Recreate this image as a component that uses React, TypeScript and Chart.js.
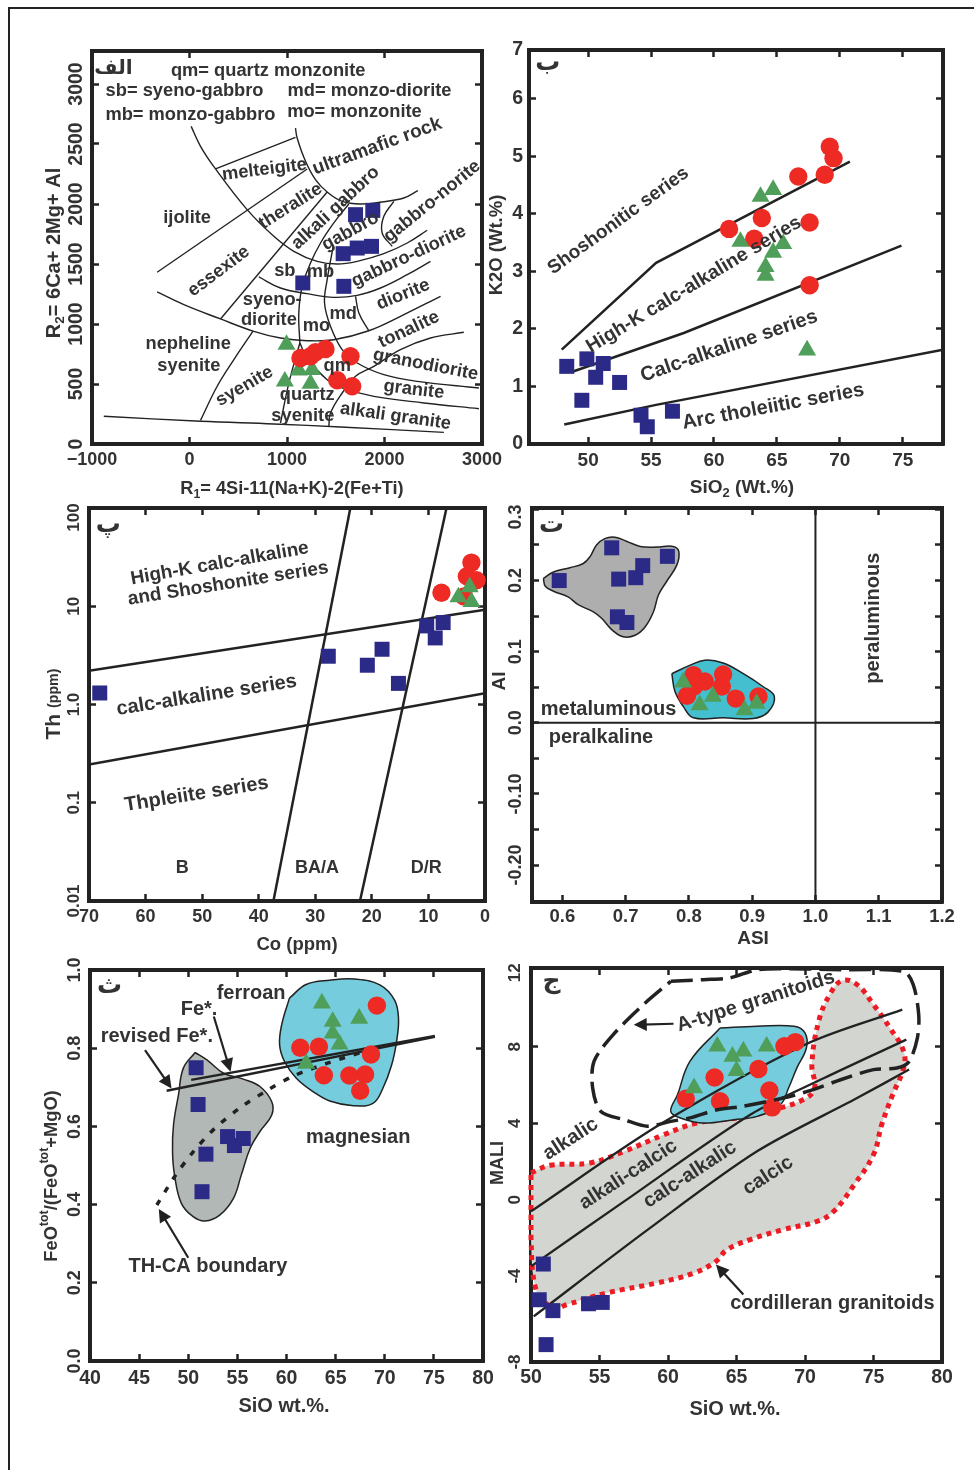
import React, { useEffect, useRef } from "react";
import { Chart, registerables } from "chart.js";

Chart.register(...registerables);

type Pair = [number, number];
// text, x, y, angle in degrees, optional font size
type Note = [string, number, number, number?, number?];
type Run = { t: string; sub?: boolean; sup?: boolean; small?: boolean };

const INK = "#222222";
const TEXT = "#333333";
const BLUE = "#2B2A86";
const RED = "#EE2A24";
const GREEN = "#4F9E5A";
const CYAN = "#74CCDD";

// ---------- panel A (R1-R2) ----------
const xTicksA = [-1000, 0, 1000, 2000, 3000];
const xLabelsA = ["−1000", "0", "1000", "2000", "3000"];
const yTicksA = [0, 500, 1000, 1500, 2000, 2500, 3000];
const yLabelsA = ["0", "500", "1000", "1500", "2000", "2500", "3000"];
const squaresA: Pair[] = [[1703, 1911], [1880, 1947], [1576, 1586], [1720, 1633], [1867, 1647], [1162, 1342], [1583, 1314]];
const circlesA: Pair[] = [[1138, 717], [1241, 731], [1292, 764], [1395, 792], [1651, 731], [1515, 531], [1668, 481]];
const trianglesA: Pair[] = [[995, 828], [1121, 614], [1258, 619], [978, 522], [1241, 503]];
const curvesA: Pair[][] = [
  [[17, 2647], [113, 2481], [267, 2292], [591, 1953], [865, 1731], [1070, 1606], [1309, 1522], [1515, 1500], [1720, 1522], [1993, 1586], [2233, 1675], [2438, 1781]],
  [[1087, 2633], [1104, 2550], [1190, 2356], [1292, 2203], [1412, 2100], [1566, 2022], [1754, 2000], [1973, 2017], [2198, 2050], [2342, 2111]],
  [[711, 1392], [933, 1300], [1207, 1253], [1480, 1222], [1720, 1239], [1959, 1300], [2233, 1411], [2472, 1522]],
  [[-332, 1267], [-58, 1161], [318, 1042], [660, 939], [933, 883], [1207, 861], [1480, 869], [1839, 944], [2164, 1064], [2575, 1231]],
  [[113, 197], [284, 481], [455, 703], [650, 939]],
  [[-879, 231], [113, 189], [865, 167], [1549, 142], [2609, 97]],
  [[1634, 2000], [1480, 1842], [1344, 1675], [1241, 1508], [1156, 1314], [1121, 1092], [1132, 842]],
  [[933, 175], [1019, 508], [1132, 842]],
  [[1132, 842], [1207, 717], [1412, 536], [1566, 467], [1891, 397], [2404, 342], [2968, 294]],
  [[1474, 1647], [1412, 1370], [1385, 1175], [1446, 981], [1566, 786], [1720, 675], [1993, 578], [2335, 522], [2968, 467]],
  [[2814, 931], [2472, 883], [2164, 786], [1891, 647], [1703, 564], [1566, 425], [1446, 258], [1429, 147]],
  [[1703, 1231], [1737, 1092], [1839, 944]],
  [[2096, 2022], [1993, 1897], [1976, 1758], [2079, 1647]],
];
const straightsA: Pair[][] = [
  [[267, 2292], [1087, 2556]],
  [[-332, 1431], [1207, 2292]],
  [[318, 1042], [1412, 2100]],
];
const notesA: Note[] = [
  ["qm= quartz monzonite", 807, 3106],
  ["sb= syeno-gabbro", -51, 2939],
  ["md= monzo-diorite", 1846, 2939],
  ["mb= monzo-gabbro", 10, 2744],
  ["mo= monzonite", 1692, 2764],
  ["melteigite", 769, 2286, -7],
  ["ultramafic rock", 1925, 2481, -20, 19],
  ["theralite", 1036, 1981, -32],
  ["alkali gabbro", 1498, 1967, -43],
  ["gabbro-norite", 2489, 2022, -39],
  ["gabbro", 1651, 1772, -29],
  ["gabbro-diorite", 2250, 1564, -25],
  ["ijolite", -24, 1883],
  ["essexite", 301, 1439, -37],
  ["sb", 978, 1439],
  ["mb", 1344, 1431],
  ["syeno-", 848, 1203],
  ["diorite", 814, 1031],
  ["mo", 1303, 981],
  ["md", 1576, 1086],
  ["diorite", 2192, 1245, -22],
  ["tonalite", 2250, 953, -25],
  ["nepheline", -14, 833],
  ["syenite", -7, 653],
  ["syenite", 564, 481, -30],
  ["qm", 1515, 653],
  ["granodiorite", 2421, 661, 11],
  ["granite", 2301, 453, 7],
  ["quartz", 1207, 411],
  ["syenite", 1162, 236],
  ["alkali granite", 2113, 231, 8],
];

// ---------- panel B (SiO2-K2O) ----------
const xTicksB = [50, 55, 60, 65, 70, 75];
const xLabelsB = ["50", "55", "60", "65", "70", "75"];
const yTicksB = [0, 1, 2, 3, 4, 5, 6, 6.85];
const yLabelsB = ["0", "1", "2", "3", "4", "5", "6", "7"];
const squaresB: Pair[] = [[48.3, 1.35], [49.9, 1.48], [51.2, 1.4], [50.6, 1.16], [52.5, 1.07], [49.5, 0.76], [54.2, 0.5], [54.7, 0.3], [56.7, 0.57]];
const circlesB: Pair[] = [[69.2, 5.17], [69.5, 4.97], [66.7, 4.65], [68.8, 4.68], [61.2, 3.74], [63.8, 3.93], [67.6, 3.85], [63.2, 3.57], [67.6, 2.76]];
const trianglesB: Pair[] = [[63.7, 4.3], [64.7, 4.42], [62.1, 3.52], [65.5, 3.48], [64.7, 3.33], [64.1, 3.08], [64.1, 2.93], [67.4, 1.63]];
const straightsB: Pair[][] = [
  [[47.9, 1.64], [55.4, 3.15], [70.8, 4.91]],
  [[48.8, 1.26], [57.6, 1.93], [74.9, 3.45]],
  [[48.1, 0.34], [55.4, 0.68], [78.2, 1.64]],
];
const notesB: Note[] = [
  ["Shoshonitic series", 52.4, 3.88, -36, 19],
  ["High-K calc-alkaline series", 58.4, 2.77, -31, 19.5],
  ["Calc-alkaline series", 61.2, 1.7, -19, 20],
  ["Arc tholeiitic series", 64.7, 0.65, -10.5, 20],
];

// ---------- panel C (Co-Th) ----------
const xTicksC = [70, 60, 50, 40, 30, 20, 10, 0];
const xLabelsC = ["70", "60", "50", "40", "30", "20", "10", "0"];
const yTicksC = [0.01, 0.1, 1, 10, 100];
const yLabelsC = ["0.01", "0.1", "1.0", "10", "100\u00A0\u00A0\u00A0\u00A0"];
const squaresC: Pair[] = [[68.1, 1.31], [27.7, 3.1], [20.8, 2.51], [18.2, 3.65], [15.3, 1.64], [10.3, 6.31], [7.4, 6.82], [8.8, 4.76]];
const circlesC: Pair[] = [[2.4, 27.8], [3.2, 20.2], [1.5, 18.4], [7.7, 13.7], [3.7, 12.6]];
const trianglesC: Pair[] = [[2.7, 15.7], [4.7, 12.4], [2.4, 11.1]];
const straightsC: Pair[][] = [
  [[70, 2.2], [0, 9.2]],
  [[70, 0.245], [0, 1.3]],
  [[37.4, 0.01], [23.8, 100]],
  [[22.1, 0.01], [6.8, 100]],
];
const notesC: Note[] = [
  ["High-K calc-alkaline", 46.9, 27.2, -10, 19],
  ["and Shoshonite series", 45.4, 17, -9, 19],
  ["calc-alkaline series", 49.2, 1.24, -9],
  ["Thpleiite series", 51, 0.122, -9],
  ["B", 53.5, 0.0215, 0, 18],
  ["BA/A", 29.7, 0.0215, 0, 18],
  ["D/R", 10.4, 0.0215, 0, 18],
];

// ---------- panel D (ASI-AI) ----------
const xTicksD = [0.6, 0.7, 0.8, 0.9, 1.0, 1.1, 1.2];
const xLabelsD = ["0.6", "0.7", "0.8", "0.9", "1.0", "1.1", "1.2"];
const yTicksD = [-0.2, -0.15, -0.1, -0.05, 0, 0.05, 0.1, 0.15, 0.2, 0.25, 0.3];
const yLabelsD = ["-0.20", "", "-0.10", "", "0.0", "", "0.1", "", "0.2", "", "0.3\u00A0\u00A0\u00A0"];
const squaresD: Pair[] = [[0.678, 0.246], [0.766, 0.234], [0.727, 0.221], [0.689, 0.202], [0.716, 0.204], [0.595, 0.2], [0.687, 0.149], [0.702, 0.141]];
const circlesD: Pair[] = [[0.807, 0.067], [0.825, 0.058], [0.854, 0.068], [0.852, 0.051], [0.808, 0.051], [0.797, 0.038], [0.874, 0.034], [0.91, 0.037]];
const trianglesD: Pair[] = [[0.791, 0.057], [0.838, 0.037], [0.817, 0.025], [0.888, 0.018], [0.907, 0.027]];
const grayBlobD: Pair[] = [[0.57, 0.203], [0.586, 0.212], [0.612, 0.218], [0.633, 0.224], [0.644, 0.234], [0.654, 0.25], [0.667, 0.259], [0.683, 0.261], [0.702, 0.255], [0.723, 0.248], [0.749, 0.247], [0.775, 0.248], [0.784, 0.241], [0.781, 0.222], [0.765, 0.199], [0.752, 0.18], [0.744, 0.156], [0.731, 0.135], [0.715, 0.123], [0.696, 0.121], [0.678, 0.131], [0.662, 0.147], [0.649, 0.156], [0.625, 0.166], [0.609, 0.177], [0.586, 0.185], [0.573, 0.192]];
const cyanBlobD: Pair[] = [[0.773, 0.069], [0.802, 0.081], [0.825, 0.088], [0.854, 0.084], [0.886, 0.069], [0.917, 0.051], [0.935, 0.037], [0.925, 0.015], [0.902, 0.006], [0.854, 0.007], [0.807, 0.007], [0.791, 0.023], [0.778, 0.044]];
const straightsD: Pair[][] = [
  [[0.552, 0], [1.2, 0]],
  [[1, -0.252], [1, 0.302]],
];
const notesD: Note[] = [
  ["metaluminous", 0.673, 0.018],
  ["peralkaline", 0.661, -0.02],
  ["peraluminous", 1.092, 0.147, -90],
];

// ---------- panel E (SiO-Fe*) ----------
const xTicksE = [40, 45, 50, 55, 60, 65, 70, 75, 80];
const xLabelsE = ["40", "45", "50", "55", "60", "65", "70", "75", "80"];
const yTicksE = [0, 0.2, 0.4, 0.6, 0.8, 1];
const yLabelsE = ["0.0", "0.2", "0.4", "0.6", "0.8", "1.0"];
const squaresE: Pair[] = [[50.8, 0.75], [51, 0.656], [54, 0.574], [54.7, 0.551], [55.6, 0.569], [51.8, 0.529], [51.4, 0.433]];
const circlesE: Pair[] = [[69.2, 0.909], [61.4, 0.801], [63.3, 0.804], [68.6, 0.784], [63.8, 0.731], [66.4, 0.73], [68, 0.733], [67.5, 0.691]];
const trianglesE: Pair[] = [[63.6, 0.915], [64.7, 0.868], [67.4, 0.876], [64.7, 0.838], [65.4, 0.81], [62, 0.761]];
const grayBlobE: Pair[] = [[50.7, 0.789], [51.9, 0.77], [53.6, 0.736], [55.6, 0.721], [57.3, 0.702], [58.5, 0.663], [58.5, 0.629], [57.3, 0.587], [56.3, 0.544], [55.4, 0.476], [54.6, 0.416], [53.2, 0.373], [51.7, 0.358], [50.5, 0.369], [49.3, 0.403], [48.6, 0.476], [48.4, 0.535], [48.5, 0.604], [49, 0.68], [49.5, 0.749]];
const cyanBlobE: Pair[] = [[60.3, 0.928], [62, 0.963], [64.4, 0.974], [66.9, 0.977], [69.5, 0.962], [71, 0.923], [71.4, 0.876], [71.2, 0.817], [70.7, 0.757], [69.8, 0.697], [68.8, 0.659], [66.8, 0.653], [64.4, 0.665], [62.7, 0.689], [61, 0.723], [59.8, 0.766], [59.3, 0.808], [59.5, 0.859]];
const straightsE: Pair[][] = [
  [[50.3, 0.719], [75.1, 0.831]],
  [[47.8, 0.691], [75.1, 0.829]],
];
const thCaBoundary: Pair[] = [[46.8, 0.399], [48.6, 0.471], [50.5, 0.535], [52.7, 0.595], [55.3, 0.648], [58.1, 0.693], [60.8, 0.73], [64.1, 0.761], [67.8, 0.791]];
const notesE: Note[] = [
  ["ferroan", 56.4, 0.94],
  ["Fe*.", 51.1, 0.9],
  ["revised Fe*.", 46.8, 0.829],
  ["magnesian", 67.3, 0.571],
  ["TH-CA boundary", 52, 0.241],
];
const arrowsE: Pair[][] = [
  [[45.6, 0.795], [48.3, 0.697]],
  [[52.6, 0.881], [54.3, 0.74]],
  [[50, 0.264], [47, 0.389]],
];

// ---------- panel F (SiO-MALI) ----------
const xTicksF = [50, 55, 60, 65, 70, 75, 80];
const xLabelsF = ["50", "55", "60", "65", "70", "75", "80"];
const yTicksF = [-8.5, -4, 0, 4, 8, 12.13];
const yLabelsF = ["-8", "-4", "0", "4", "8", "12\u00A0\u00A0"];
const squaresF: Pair[] = [[50.9, -3.37], [50.6, -5.24], [51.6, -5.81], [54.2, -5.45], [55.2, -5.38], [51.1, -7.59]];
const circlesF: Pair[] = [[61.3, 5.29], [63.4, 6.4], [63.8, 5.15], [66.6, 6.84], [68.5, 8.03], [69.3, 8.25], [67.4, 5.72], [67.6, 4.83]];
const trianglesF: Pair[] = [[61.9, 5.85], [63.6, 8.03], [64.7, 7.5], [65.5, 7.77], [67.2, 8.03], [65, 6.75]];
const cordilleran: Pair[] = [[50, 1.4], [51.4, 1.8], [54.3, 1.92], [56.8, 2.53], [59.7, 3.4], [62.1, 4.01], [65, 4.28], [67.2, 4.62], [69.9, 5.24], [70.7, 5.85], [70.5, 7.07], [71, 9.34], [71.8, 10.73], [72.7, 11.47], [73.8, 11.26], [75, 10.21], [76.2, 8.99], [77.2, 7.77], [77.2, 6.89], [76.4, 5.5], [75.6, 3.93], [75, 2.36], [73.6, 0.79], [72.1, -0.61], [70.9, -1.13], [68.4, -1.57], [66, -2.09], [64.3, -2.62], [63.5, -3.23], [61.9, -3.84], [59.2, -4.36], [55.5, -4.89], [52.6, -5.5], [51.7, -5.67], [50.4, -4.8], [50, -2.01]];
const aType: Pair[] = [[60.2, 11.43], [62.6, 11.52], [64.5, 11.61], [66.5, 12.04], [68.9, 12.09], [72.6, 12.04], [77.2, 11.95], [77.9, 11.26], [78.3, 9.69], [78.2, 8.46], [77.6, 7.24], [76.7, 6.89], [75, 6.81], [72.6, 6.28], [70.6, 5.76], [68.4, 5.32], [65.5, 4.89], [63.6, 4.71], [61.6, 4.28], [60.2, 4.1], [58.5, 3.84], [56.8, 4.19], [55.1, 4.62], [54.5, 5.85], [54.6, 7.24], [56, 8.64], [58.2, 10.21], [60.2, 11.43]];
const cyanBlobF: Pair[] = [[63.8, 8.99], [66.5, 9.08], [69.2, 9.08], [70, 8.73], [70.1, 7.94], [69.4, 6.89], [68.8, 5.85], [68.2, 4.97], [66.5, 4.36], [64.8, 4.19], [62.6, 4.01], [60.9, 4.28], [60.2, 4.62], [60.7, 5.5], [61.6, 7.24]];
const curvesF: Pair[][] = [
  [[50, -0.61], [59.4, 3.93], [70.1, 8.15], [77.1, 9.95]],
  [[50, -3.49], [56.8, -0.09], [66, 4.45], [71.4, 6.37], [77.4, 8.38]],
  [[50.2, -6.11], [58.7, -1.48], [66.5, 2.53], [73.8, 5.32], [77.6, 6.81]],
];
const notesF: Note[] = [
  ["alkalic", 52.9, 3.18, -33],
  ["alkali-calcic", 57.1, 1.31, -33],
  ["calc-alkalic", 61.6, 1.31, -33],
  ["calcic", 67.3, 1.26, -33],
  ["A-type granitoids", 66.4, 10.38, -17.5],
  ["cordilleran granitoids", 72, -5.45],
];
const arrowsF: Pair[][] = [
  [[60.4, 9.21], [57.5, 9.16]],
  [[65.5, -4.97], [63.5, -3.4]],
];

const toPoints = (pairs: Pair[]) => pairs.map(([x, y]) => ({ x, y }));

const markers = (pairs: Pair[], style: string, color: string, radius: number, order: number) => ({
  data: toPoints(pairs),
  showLine: false,
  pointStyle: style,
  pointRadius: radius,
  pointBackgroundColor: color,
  pointBorderWidth: 0,
  clip: false,
  order,
});

const line = (pairs: Pair[], width: number, tension: number, order = 20, dash: number[] = [], color = INK) => ({
  data: toPoints(pairs),
  showLine: true,
  pointRadius: 0,
  borderColor: color,
  borderWidth: width,
  borderDash: dash,
  tension,
  fill: false,
  order,
});

const blob = (pairs: Pair[], color: string, order = 30, width = 1.5, outline = INK, dash: number[] = []) => ({
  ...line([...pairs, pairs[0]], width, 0.4, order, dash, outline),
  fill: "shape",
  backgroundColor: color,
  clip: false,
});

const dots = (squares: Pair[], circles: Pair[], triangles: Pair[], redOnTop = false) => [
  markers(squares, "rect", BLUE, 10.6, 3),
  markers(circles, "circle", RED, 9.2, redOnTop ? 1 : 2),
  markers(triangles, "triangle", GREEN, 10.4, redOnTop ? 2 : 1),
];

interface AxisSpec {
  min: number;
  max: number;
  ticks: number[];
  labels: string[];
  size: number;
  pad: number;
  log?: boolean;
  reverse?: boolean;
  flat?: boolean; // y labels stay horizontal
}

interface PanelSpec {
  frame: { left: number; top: number; right: number; bottom: number };
  x: AxisSpec;
  y: AxisSpec;
  datasets: any[];
  notes: Note[];
  noteSize?: number;
  mark: [string, number, number];
  markSize?: number;
  arrows?: Pair[][];
  xTitle: [Run[], number, number, number];
  yTitle: [Run[], number, number, number];
}

const MARGIN = { left: 70, right: 32, top: 18, bottom: 72 };

const drawRuns = (ctx: CanvasRenderingContext2D, runs: Run[], cx: number, cy: number, rotate: number, size: number) => {
  const fontOf = (r: Run) => {
    const s = r.sub || r.sup || r.small ? size * 0.68 : size;
    return `bold ${s}px "Liberation Sans"`;
  };
  let total = 0;
  runs.forEach((r) => {
    ctx.font = fontOf(r);
    total += ctx.measureText(r.t).width;
  });
  ctx.save();
  ctx.translate(cx, cy);
  ctx.rotate(rotate);
  ctx.textAlign = "left";
  ctx.textBaseline = "middle";
  ctx.fillStyle = TEXT;
  let at = -total / 2;
  runs.forEach((r) => {
    ctx.font = fontOf(r);
    const dy = r.sub ? size * 0.3 : r.sup ? -size * 0.38 : 0;
    ctx.fillText(r.t, at, dy);
    at += ctx.measureText(r.t).width;
  });
  ctx.restore();
};

const panelNotes = (spec: PanelSpec) => ({
  id: "panelNotes",
  afterDatasetsDraw(chart: any) {
    const { ctx, scales } = chart;
    const { left, top } = spec.frame;
    const px = (v: number) => scales.x.getPixelForValue(v);
    const py = (v: number) => scales.y.getPixelForValue(v);

    (spec.arrows || []).forEach(([from, to]) => {
      const x1 = px(from[0]);
      const y1 = py(from[1]);
      const x2 = px(to[0]);
      const y2 = py(to[1]);
      const a = Math.atan2(y2 - y1, x2 - x1);
      ctx.save();
      ctx.strokeStyle = INK;
      ctx.fillStyle = INK;
      ctx.lineWidth = 2.2;
      ctx.beginPath();
      ctx.moveTo(x1, y1);
      ctx.lineTo(x2 - 8 * Math.cos(a), y2 - 8 * Math.sin(a));
      ctx.stroke();
      ctx.translate(x2, y2);
      ctx.rotate(a);
      ctx.beginPath();
      ctx.moveTo(0, 0);
      ctx.lineTo(-13, -6.5);
      ctx.lineTo(-13, 6.5);
      ctx.closePath();
      ctx.fill();
      ctx.restore();
    });

    ctx.save();
    ctx.fillStyle = TEXT;
    ctx.textAlign = "center";
    ctx.textBaseline = "middle";
    spec.notes.forEach(([text, x, y, angle, size]) => {
      ctx.save();
      ctx.font = `bold ${size || spec.noteSize || 18}px "Liberation Sans"`;
      ctx.translate(px(x), py(y));
      ctx.rotate(((angle || 0) * Math.PI) / 180);
      ctx.fillText(text, 0, 0);
      ctx.restore();
    });
    const [mark, mx, my] = spec.mark;
    ctx.font = `bold ${spec.markSize || 25}px "DejaVu Sans"`;
    ctx.fillText(mark, px(mx), py(my));
    ctx.restore();

    // axis titles sit at page positions, so take the canvas offset off
    const ox = left - MARGIN.left;
    const oy = top - MARGIN.top;
    const [xRuns, xx, xy, xs] = spec.xTitle;
    drawRuns(ctx, xRuns, xx - ox, xy - oy, 0, xs);
    const [yRuns, yx, yy, ys] = spec.yTitle;
    drawRuns(ctx, yRuns, yx - ox, yy - oy, -Math.PI / 2, ys);
  },
});

const scaleOptions = (axis: AxisSpec, position: string, primary: boolean, thickness: number) => {
  const vertical = position === "left" || position === "right";
  return {
    type: axis.log ? "logarithmic" : "linear",
    axis: vertical ? "y" : "x",
    position,
    min: axis.min,
    max: axis.max,
    reverse: axis.reverse,
    afterBuildTicks: (scale: any) => {
      scale.ticks = axis.ticks.map((value) => ({ value }));
    },
    afterFit: (scale: any) => {
      // fixed margins, and no extra room for labels that overhang the plot
      if (vertical) scale.width = thickness;
      else scale.height = thickness;
      scale.paddingTop = 0;
      scale.paddingBottom = 0;
      scale.paddingLeft = 0;
      scale.paddingRight = 0;
    },
    border: { display: true, color: INK, width: 4 },
    grid: { drawOnChartArea: false, drawTicks: true, tickLength: -7, tickWidth: 2.5, tickColor: INK },
    ticks: {
      display: primary,
      autoSkip: false,
      color: TEXT,
      padding: axis.pad,
      font: { family: '"Liberation Sans"', weight: "bold", size: axis.size },
      callback: (_v: any, i: number) => axis.labels[i],
      minRotation: vertical && !axis.flat ? 90 : 0,
      maxRotation: vertical && !axis.flat ? 90 : 0,
      crossAlign: vertical && !axis.flat ? "center" : "near",
    },
  };
};

const Panel: React.FC<{ spec: PanelSpec }> = ({ spec }) => {
  const canvasRef = useRef<HTMLCanvasElement>(null);
  const { frame } = spec;
  const width = frame.right - frame.left + MARGIN.left + MARGIN.right;
  const height = frame.bottom - frame.top + MARGIN.top + MARGIN.bottom;

  useEffect(() => {
    if (!canvasRef.current) return;
    const chart = new Chart(canvasRef.current, {
      type: "scatter",
      data: { datasets: spec.datasets },
      plugins: [panelNotes(spec)],
      options: {
        responsive: false,
        animation: false,
        events: [],
        layout: { padding: 0 },
        plugins: { legend: { display: false }, tooltip: { enabled: false } },
        scales: {
          x: scaleOptions(spec.x, "bottom", true, MARGIN.bottom),
          x2: scaleOptions(spec.x, "top", false, MARGIN.top),
          y: scaleOptions(spec.y, "left", true, MARGIN.left),
          y2: scaleOptions(spec.y, "right", false, MARGIN.right),
        },
      } as any,
    } as any);
    return () => chart.destroy();
  }, [spec]);

  return (
    <canvas
      ref={canvasRef}
      width={width}
      height={height}
      style={{ position: "absolute", left: frame.left - MARGIN.left, top: frame.top - MARGIN.top, filter: "blur(0.4px)" }}
    />
  );
};

const panels: PanelSpec[] = [
  {
    frame: { left: 92, top: 51, right: 482, bottom: 444 },
    x: { min: -1000, max: 3000, ticks: xTicksA, labels: xLabelsA, size: 18, pad: 12.5 },
    y: { min: 0, max: 3275, ticks: yTicksA, labels: yLabelsA, size: 19.5, pad: 1 },
    datasets: [
      ...dots(squaresA, circlesA, trianglesA, true),
      ...curvesA.map((c) => line(c, 1.4, 0.4)),
      ...straightsA.map((c) => line(c, 1.4, 0)),
    ],
    notes: notesA,
    noteSize: 18.3,
    mark: ["الف", -780, 3130],
    markSize: 20,
    xTitle: [[{ t: "R" }, { t: "1", sub: true }, { t: "= 4Si-11(Na+K)-2(Fe+Ti)" }], 292, 489, 18.2],
    yTitle: [[{ t: "R" }, { t: "2", sub: true }, { t: "= 6Ca+ 2Mg+ Al" }], 54, 253, 20],
  },
  {
    frame: { left: 529, top: 50, right: 943, bottom: 444 },
    x: { min: 45.3, max: 78.2, ticks: xTicksB, labels: xLabelsB, size: 19, pad: 12 },
    y: { min: 0, max: 6.85, ticks: yTicksB, labels: yLabelsB, size: 19.5, pad: 13, flat: true },
    datasets: [...dots(squaresB, circlesB, trianglesB), ...straightsB.map((c) => line(c, 2.5, 0))],
    notes: notesB,
    mark: ["ب", 46.8, 6.62],
    xTitle: [[{ t: "SiO" }, { t: "2", sub: true }, { t: " (Wt.%)" }], 742, 488, 19],
    yTitle: [[{ t: "K2O (Wt.%)" }], 497, 245, 18.5],
  },
  {
    frame: { left: 89, top: 508, right: 485, bottom: 901 },
    x: { min: 0, max: 70, ticks: xTicksC, labels: xLabelsC, size: 18, pad: 12, reverse: true },
    y: { min: 0.01, max: 100, ticks: yTicksC, labels: yLabelsC, size: 17, pad: -1.5, log: true },
    datasets: [...dots(squaresC, circlesC, trianglesC), ...straightsC.map((c) => line(c, 2.5, 0))],
    notes: notesC,
    noteSize: 20,
    mark: ["پ", 66.6, 66],
    xTitle: [[{ t: "Co " }, { t: "(ppm)" }], 297, 945, 18.5],
    yTitle: [[{ t: "Th " }, { t: "(ppm)", small: true }], 54, 704, 21],
  },
  {
    frame: { left: 532, top: 508, right: 942, bottom: 902 },
    x: { min: 0.552, max: 1.2, ticks: xTicksD, labels: xLabelsD, size: 18.5, pad: 11 },
    y: { min: -0.252, max: 0.302, ticks: yTicksD, labels: yLabelsD, size: 18, pad: 2.5 },
    datasets: [
      ...dots(squaresD, circlesD, trianglesD),
      ...straightsD.map((c) => line(c, 2, 0)),
      blob(grayBlobD, "#AEAEAE"),
      blob(cyanBlobD, "#43BFD0"),
    ],
    notes: notesD,
    noteSize: 20,
    mark: ["ت", 0.583, 0.278],
    xTitle: [[{ t: "ASI" }], 753, 939, 19],
    yTitle: [[{ t: "AI" }], 500, 681, 19],
  },
  {
    frame: { left: 90, top: 970, right: 483, bottom: 1361 },
    x: { min: 40, max: 80, ticks: xTicksE, labels: xLabelsE, size: 19.5, pad: 12.5 },
    y: { min: 0, max: 1, ticks: yTicksE, labels: yLabelsE, size: 18, pad: 9.5 },
    datasets: [
      ...dots(squaresE, circlesE, trianglesE),
      line(thCaBoundary, 3.5, 0.3, 25, [6, 9]),
      ...straightsE.map((c) => line(c, 2.5, 0)),
      blob(grayBlobE, "#B2B8B6"),
      blob(cyanBlobE, CYAN),
    ],
    notes: notesE,
    noteSize: 20,
    mark: ["ث", 42, 0.957],
    arrows: arrowsE,
    xTitle: [[{ t: "SiO wt.%." }], 284, 1406, 20],
    yTitle: [
      [{ t: "FeO" }, { t: "tot", sup: true }, { t: "/(FeO" }, { t: "tot", sup: true }, { t: "+MgO)" }],
      52,
      1176,
      18.3,
    ],
  },
  {
    frame: { left: 531, top: 968, right: 942, bottom: 1362 },
    x: { min: 50, max: 80, ticks: xTicksF, labels: xLabelsF, size: 19.5, pad: 11 },
    y: { min: -8.5, max: 12.13, ticks: yTicksF, labels: yLabelsF, size: 17, pad: 8.8 },
    datasets: [
      line(aType, 3.5, 0.3, 0, [22, 8]),
      ...dots(squaresF, circlesF, trianglesF),
      ...curvesF.map((c) => line(c, 2.3, 0.3)),
      blob(cyanBlobF, CYAN, 30),
      blob(cordilleran, "#D3D5D0", 40, 5, "#ED1C24", [5, 5]),
    ],
    notes: notesF,
    noteSize: 20,
    mark: ["ج", 51.5, 11.4],
    arrows: arrowsF,
    xTitle: [[{ t: "SiO wt.%." }], 735, 1409, 20],
    yTitle: [[{ t: "MALI" }], 498, 1163, 18],
  },
];

export default function App() {
  return (
    <div style={{ position: "absolute", left: 0, top: 0, width: 974, height: 1470, overflow: "hidden", background: "#fff" }}>
      <div style={{ position: "absolute", left: 8, top: 7, width: 980, height: 1480, border: `2px solid ${INK}` }} />
      {panels.map((spec, i) => (
        <Panel key={i} spec={spec} />
      ))}
    </div>
  );
}
